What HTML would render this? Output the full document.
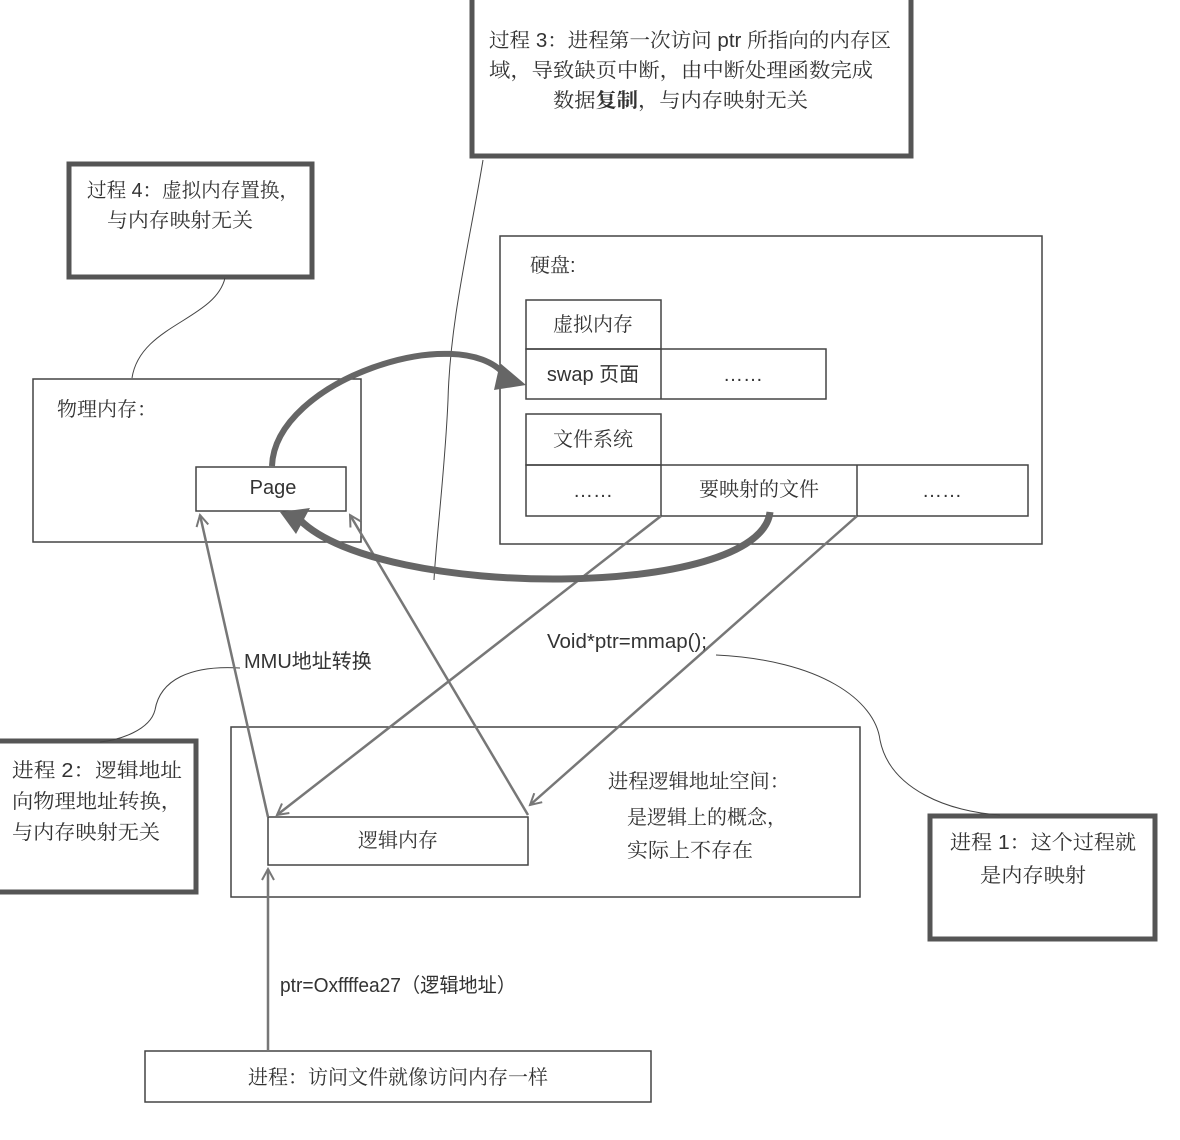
<!DOCTYPE html>
<html><head><meta charset="utf-8"><style>
html,body{margin:0;padding:0;background:#fff;}
svg{display:block;}
text{font-family:"Liberation Sans","Noto Serif CJK SC",serif;font-size:20px;fill:#333;}
.s{font-family:"Liberation Sans","Noto Sans CJK SC",sans-serif;}
</style></head><body>
<svg width="1180" height="1140" viewBox="0 0 1180 1140" xmlns="http://www.w3.org/2000/svg">
<defs>
<marker id="a" markerWidth="14" markerHeight="14" refX="12" refY="7" orient="auto" markerUnits="userSpaceOnUse">
<path d="M1,1 L12,7 L1,13" fill="none" stroke="#777" stroke-width="2"/>
</marker>
</defs>
<rect width="1180" height="1140" fill="#fff"/>
<g fill="none" stroke="#444" stroke-width="1.5">
<rect x="472" y="-4" width="439" height="160" stroke="#555" stroke-width="5"/>
<rect x="69" y="164" width="243" height="113" stroke="#555" stroke-width="5"/>
<rect x="-5" y="741" width="201" height="151" stroke="#555" stroke-width="5"/>
<rect x="930" y="816" width="225" height="123" stroke="#555" stroke-width="5"/>
<rect x="33" y="379" width="328" height="163"/>
<rect x="196" y="467" width="150" height="44"/>
<rect x="500" y="236" width="542" height="308"/>
<rect x="526" y="300" width="135" height="49"/>
<rect x="526" y="349" width="300" height="50"/>
<line x1="661" y1="349" x2="661" y2="399"/>
<rect x="526" y="414" width="135" height="51"/>
<rect x="526" y="465" width="502" height="51"/>
<line x1="661" y1="465" x2="661" y2="516"/>
<line x1="857" y1="465" x2="857" y2="516"/>
<rect x="231" y="727" width="629" height="170"/>
<rect x="268" y="817" width="260" height="48"/>
<rect x="145" y="1051" width="506" height="51"/>
<path d="M483,160 C470,240 450,320 448,400 C445,470 436,540 434,580" stroke-width="1"/>
<path d="M225,278 C215,320 140,325 132,378" stroke-width="1"/>
<path d="M240,668 C190,665 160,680 155,710 C150,730 120,740 100,742" stroke-width="1"/>
<path d="M716,655 C820,660 875,700 880,740 C890,790 950,812 1000,815" stroke-width="1"/>
</g>
<g stroke="#777" stroke-width="2.5" fill="none" marker-end="url(#a)">
<line x1="268" y1="1051" x2="268" y2="869"/>
<line x1="268" y1="817" x2="200" y2="515"/>
<line x1="528" y1="815" x2="350" y2="515"/>
<line x1="661" y1="516" x2="277" y2="815"/>
<line x1="857" y1="516" x2="530" y2="805"/>
</g>
<path d="M272,466 C275,380 460,320 505,375" fill="none" stroke="#666" stroke-width="6"/>
<path d="M500,363 L526,385 L494,390 Z" fill="#666"/>
<path d="M770,512 C760,600 380,600 300,520" fill="none" stroke="#666" stroke-width="7"/>
<path d="M280,512 L310,508 L296,534 Z" fill="#666"/>
<text x="489" y="47" textLength="402" lengthAdjust="spacingAndGlyphs">过程 3：进程第一次访问 ptr 所指向的内存区</text>
<text x="489" y="77" textLength="384" lengthAdjust="spacingAndGlyphs">域，导致缺页中断，由中断处理函数完成</text>
<text x="553" y="107" textLength="255" lengthAdjust="spacingAndGlyphs">数据<tspan font-weight="bold">复制</tspan>，与内存映射无关</text>
<text x="87" y="197" textLength="212" lengthAdjust="spacingAndGlyphs">过程 4：虚拟内存置换，</text>
<text x="107" y="227" textLength="146" lengthAdjust="spacingAndGlyphs">与内存映射无关</text>
<text x="57" y="416">物理内存：</text>
<text x="273" y="494" text-anchor="middle" class="s" font-size="18">Page</text>
<text x="530" y="272">硬盘:</text>
<text x="593" y="331" text-anchor="middle">虚拟内存</text>
<text x="593" y="381" text-anchor="middle" class="s">swap 页面</text>
<text x="743" y="381" text-anchor="middle" font-size="13">……</text>
<text x="593" y="446" text-anchor="middle">文件系统</text>
<text x="593" y="497" text-anchor="middle" font-size="13">……</text>
<text x="759" y="496" text-anchor="middle">要映射的文件</text>
<text x="942" y="497" text-anchor="middle" font-size="13">……</text>
<text x="547" y="648" class="s" font-size="18" textLength="160" lengthAdjust="spacingAndGlyphs">Void*ptr=mmap();</text>
<text x="244" y="668" class="s" font-size="18">MMU地址转换</text>
<text x="12" y="777" textLength="170" lengthAdjust="spacingAndGlyphs">进程 2：逻辑地址</text>
<text x="12" y="808" textLength="170" lengthAdjust="spacingAndGlyphs">向物理地址转换，</text>
<text x="12" y="839" textLength="148" lengthAdjust="spacingAndGlyphs">与内存映射无关</text>
<text x="608" y="788" textLength="182" lengthAdjust="spacingAndGlyphs">进程逻辑地址空间：</text>
<text x="627" y="824" textLength="160" lengthAdjust="spacingAndGlyphs">是逻辑上的概念，</text>
<text x="627" y="857" textLength="126" lengthAdjust="spacingAndGlyphs">实际上不存在</text>
<text x="398" y="847" text-anchor="middle">逻辑内存</text>
<text x="950" y="849" textLength="186" lengthAdjust="spacingAndGlyphs">进程 1：这个过程就</text>
<text x="980" y="882" textLength="106" lengthAdjust="spacingAndGlyphs">是内存映射</text>
<text x="280" y="992" class="s" font-size="17" textLength="236" lengthAdjust="spacingAndGlyphs">ptr=Oxffffea27（逻辑地址）</text>
<text x="398" y="1084" text-anchor="middle">进程：访问文件就像访问内存一样</text>
</svg>
</body></html>
